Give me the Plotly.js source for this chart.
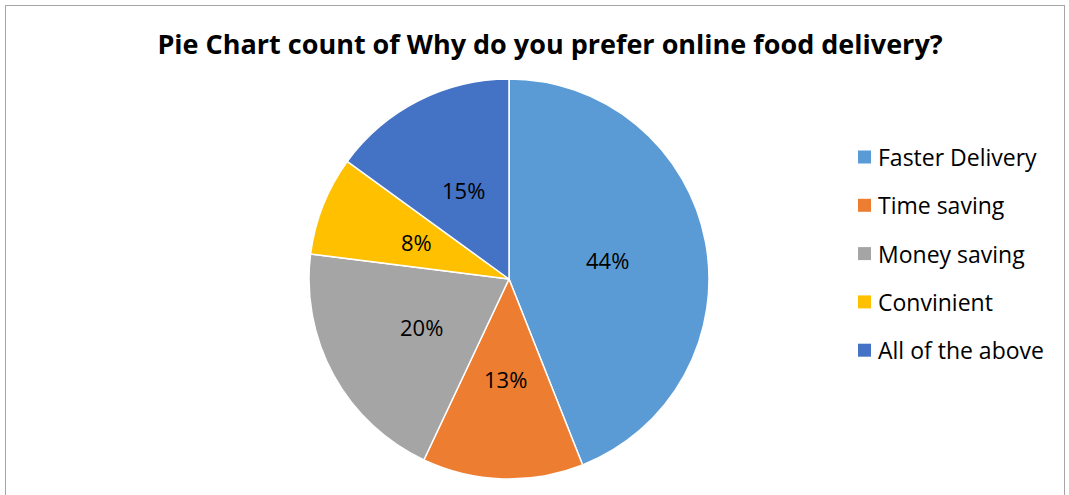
<!DOCTYPE html>
<html>
<head>
<meta charset="utf-8">
<script src="https://cdn.plot.ly/plotly-3.0.1.min.js"></script>
<style>
  html, body { margin: 0; padding: 0; background: #fff; }
  #wrap { position: relative; width: 1069px; height: 495px; overflow: hidden; }
  #chart { position: absolute; left: 0; top: 0; width: 1069px; height: 495px; }
  #frame { position: absolute; left: 5px; top: 5px; width: 1060px; height: 520px;
           border: 1.5px solid #a6a6a6; pointer-events: none; box-sizing: border-box; }
</style>
</head>
<body>
<div id="wrap">
  <div id="chart"></div>
  <div id="frame"></div>
</div>
<script>
const categories = ["Faster Delivery", "Time saving", "Money saving", "Convinient", "All of the above"];
const percentValues = [44, 13, 20, 8, 15];
const sliceColors = ["#5B9BD5", "#ED7D31", "#A5A5A5", "#FFC000", "#4472C4"];
const chartTitle = "Pie Chart count of Why do you prefer online food delivery?";

const W = 1069, H = 495;
const FONT = "Open Sans, Liberation Sans, sans-serif";
// pie geometry (pixels)
const CX = 509, CY = 279, R = 200;
const LABEL_R = 0.5;

const trace = {
  type: "pie",
  labels: categories,
  values: percentValues,
  sort: false,
  direction: "clockwise",
  rotation: 0,
  marker: { colors: sliceColors, line: { color: "#ffffff", width: 1.5 } },
  textinfo: "none",
  hoverinfo: "label+percent",
  showlegend: false,
  domain: { x: [(CX - R) / W, (CX + R) / W], y: [(H - CY - R) / H, (H - CY + R) / H] }
};

const shapes = [], annotations = [];

// slice percentage labels, placed at mid-angle of each slice computed from the data
const total = percentValues.reduce((a, b) => a + b, 0);
let cum = 0;
percentValues.forEach((v, i) => {
  const mid = (cum + v / 2) / total * 2 * Math.PI;
  cum += v;
  const px = CX + LABEL_R * R * Math.sin(mid);
  const py = CY - LABEL_R * R * Math.cos(mid);
  annotations.push({
    xref: "paper", yref: "paper", x: px / W, y: 1 - py / H,
    xanchor: "center", yanchor: "middle", showarrow: false,
    text: Math.round(v / total * 100) + "%",
    font: { family: FONT, size: 22, color: "#000000" }
  });
});

// custom legend built from the category arrays
const legendTop = 157, legendStep = 48.3;
categories.forEach((c, i) => {
  const yc = legendTop + i * legendStep;
  shapes.push({
    type: "rect", xref: "paper", yref: "paper",
    x0: 858 / W, x1: 871 / W, y0: 1 - (yc + 6.5) / H, y1: 1 - (yc - 6.5) / H,
    fillcolor: sliceColors[i], line: { width: 0 }
  });
  annotations.push({
    xref: "paper", yref: "paper", x: 876 / W, y: 1 - yc / H,
    xanchor: "left", yanchor: "middle", showarrow: false,
    text: c, font: { family: FONT, size: 23, color: "#000000" }
  });
});

const layout = {
  width: W, height: H,
  margin: { l: 0, r: 0, t: 0, b: 0 },
  paper_bgcolor: "#ffffff",
  title: {
    text: "<b>" + chartTitle + "</b>",
    x: 550 / W, xanchor: "center",
    y: 1 - 45 / H, yref: "container", yanchor: "middle",
    font: { family: FONT, size: 27, color: "#000000" }
  },
  showlegend: false,
  shapes: shapes,
  annotations: annotations
};

Plotly.newPlot("chart", [trace], layout, { displayModeBar: false, staticPlot: true });
</script>
</body>
</html>
